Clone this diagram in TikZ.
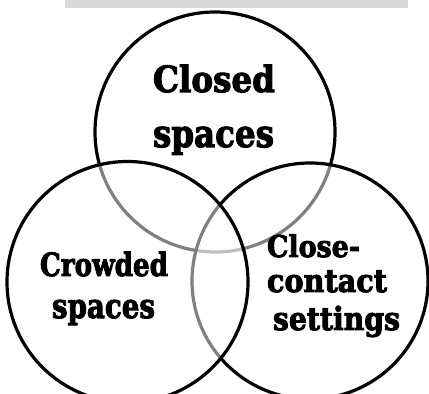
\documentclass[tikz,border=0pt]{standalone}
\usepackage{fontspec}
\setmainfont{DejaVu Serif}[BoldFeatures={FakeBold=3}]
\usepackage{graphicx}
\tikzset{
  venn/.style={draw=black, line width=3.2pt, fill=white, fill opacity=0.5},
  lbl/.style={anchor=base west, inner sep=0pt, outer sep=0pt, text=black, font=\bfseries},
}
\newcommand{\fitw}[3]{\resizebox{#1pt}{\height}{\fontsize{#2}{#2}\selectfont #3}}
\begin{document}
\begin{tikzpicture}[x=1pt,y=1pt]
\useasboundingbox (0,0) rectangle (429,394);
\fill[black!15] (65,386) rectangle (408,394);
\node[venn, circle, minimum size=240pt, inner sep=0pt] (top) at (215,262) {};
\node[venn, circle, minimum size=236pt, inner sep=0pt] (right) at (310,113) {};
\node[venn, circle, minimum size=241pt, inner sep=0pt] (left) at (127.5,112) {};
\node[lbl] (t1) at (153,302) {\fitw{122}{36}{Closed}};
\node[lbl] (t2) at (153,247) {\fitw{121}{38}{spaces}};
\node[lbl] (l1) at (40,118) {\fitw{128}{32}{Crowded}};
\node[lbl] (l2) at (52,76) {\fitw{103}{34}{spaces}};
\node[lbl] (r1) at (267,137) {\fitw{93}{30}{Close-}};
\node[lbl] (r2) at (267,102) {\fitw{120}{32}{contact}};
\node[lbl] (r3) at (273,64) {\fitw{127}{32}{settings}};
\end{tikzpicture}
\end{document}
